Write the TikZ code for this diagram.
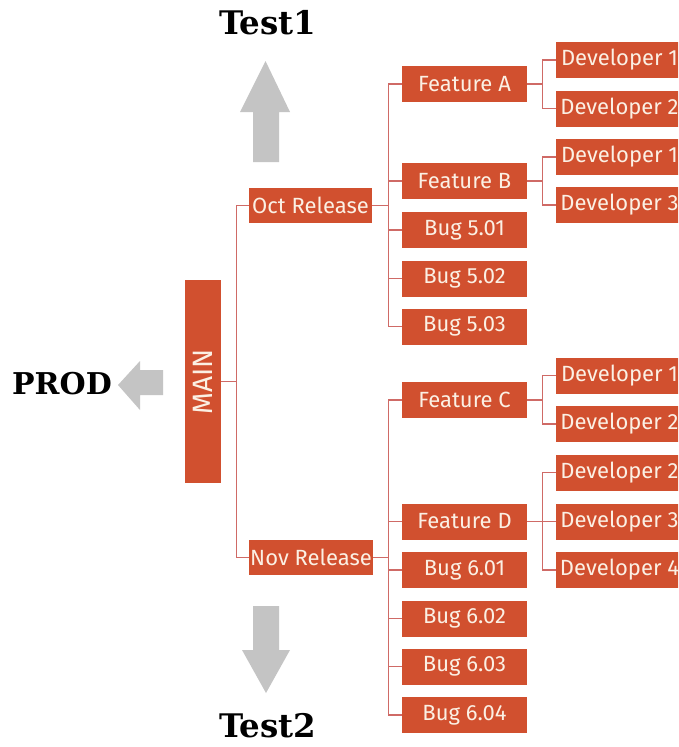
\documentclass[tikz,border=0pt]{standalone}
\usepackage{fontspec}
\setmainfont{DejaVu Serif}
\newfontfamily\boxfont{Fira Sans}
\definecolor{boxred}{HTML}{D1502F}
\definecolor{linered}{HTML}{CF6A66}
\definecolor{boxtext}{HTML}{FBF0E4}
\definecolor{arrowgray}{HTML}{C4C4C4}
\tikzset{
  rbox/.style={rectangle, fill=boxred, text=boxtext, inner sep=0pt,
    minimum width=125pt, minimum height=36pt,
    font=\boxfont\fontsize{22}{24}\selectfont},
  relbox/.style={rbox, minimum width=123pt, minimum height=35pt},
  devbox/.style={rbox, minimum width=127pt},
  conn/.style={draw=linered, line width=1.4pt},
  bigtext/.style={font=\bfseries\fontsize{30}{34}\selectfont, text=black, inner sep=0pt},
  testtext/.style={bigtext, font=\bfseries\fontsize{32.5}{36}\selectfont},
  grayarrow/.style={fill=arrowgray}
}
\begin{document}
\begin{tikzpicture}[x=1pt,y=-1pt]
\clip (0,0) rectangle (678,747);
\fill[white] (0,0) rectangle (678,747);

% labels
\node[testtext] (test1) at (268,23) {Test1};
\node[testtext] (test2) at (268,726) {Test2};
\node[bigtext] (prod) at (62,384) {PROD};

% gray arrows
\fill[grayarrow] (265.5,61) -- (290,112) -- (279,112) -- (279,162) -- (253,162) -- (253,112) -- (240,112) -- cycle;
\fill[grayarrow] (266,693) -- (290,650) -- (279,650) -- (279,606) -- (253,606) -- (253,650) -- (242,650) -- cycle;
\fill[grayarrow] (118,385) -- (140,361) -- (140,370) -- (163,370) -- (163,395) -- (140,395) -- (140,410) -- cycle;

% main
\node[rbox, minimum width=36pt, minimum height=203pt] (main) at (203,381.5) {};
\node[text=boxtext, font=\boxfont\fontsize{28}{30}\selectfont, rotate=90, inner sep=0pt] (maintext) at (main.center) {MAIN};

% releases
\node[relbox] (oct) at (310.5,205.5) {Oct Release};
\node[relbox, minimum width=124pt] (nov) at (311,557.5) {Nov Release};

% oct children
\node[rbox] (fa) at (464.5,84) {Feature A};
\node[rbox] (fb) at (464.5,181) {Feature B};
\node[rbox] (b501) at (464.5,230) {Bug 5.01};
\node[rbox] (b502) at (464.5,278.5) {Bug 5.02};
\node[rbox] (b503) at (464.5,326.5) {Bug 5.03};

% nov children
\node[rbox] (fc) at (464.5,400) {Feature C};
\node[rbox] (fd) at (464.5,521.5) {Feature D};
\node[rbox] (b601) at (464.5,570) {Bug 6.01};
\node[rbox] (b602) at (464.5,618.5) {Bug 6.02};
\node[rbox] (b603) at (464.5,666.5) {Bug 6.03};
\node[rbox] (b604) at (464.5,715) {Bug 6.04};

% developers
\node[devbox] (da1) at (619.5,60) {Developer 1};
\node[devbox] (da2) at (619.5,108.5) {Developer 2};
\node[devbox] (db1) at (619.5,157) {Developer 1};
\node[devbox] (db3) at (619.5,205) {Developer 3};
\node[devbox] (dc1) at (619.5,375.5) {Developer 1};
\node[devbox] (dc2) at (619.5,424) {Developer 2};
\node[devbox] (dd2) at (619.5,472.5) {Developer 2};
\node[devbox] (dd3) at (619.5,521.5) {Developer 3};
\node[devbox] (dd4) at (619.5,570) {Developer 4};

% connectors
\foreach \c in {oct,nov} \draw[conn] (main.east) -- ++(15,0) |- (\c.west);
\foreach \c in {fa,fb,b501,b502,b503} \draw[conn] (oct.east) -- ++(16,0) |- (\c.west);
\foreach \c in {fc,fd,b601,b602,b603,b604} \draw[conn] (nov.east) -- ++(15,0) |- (\c.west);
\foreach \c in {da1,da2} \draw[conn] (fa.east) -- ++(15,0) |- (\c.west);
\foreach \c in {db1,db3} \draw[conn] (fb.east) -- ++(15,0) |- (\c.west);
\foreach \c in {dc1,dc2} \draw[conn] (fc.east) -- ++(15,0) |- (\c.west);
\foreach \c in {dd2,dd3,dd4} \draw[conn] (fd.east) -- ++(15,0) |- (\c.west);
\end{tikzpicture}
\end{document}
